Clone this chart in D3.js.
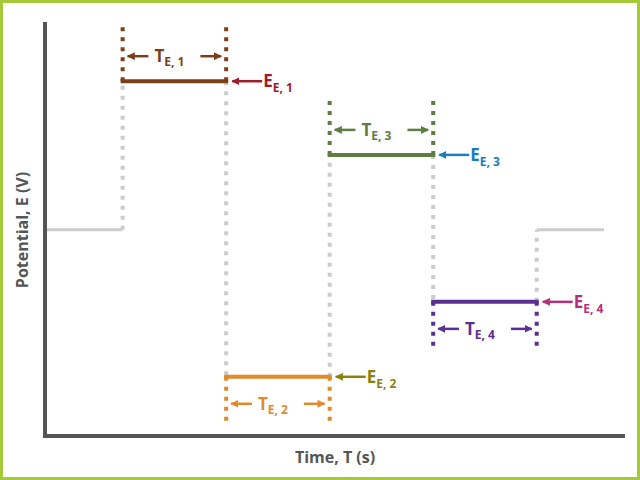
<!DOCTYPE html>
<html><head><meta charset="utf-8">
<script src="https://cdn.jsdelivr.net/npm/d3@7"></script>
<style>body{margin:0}svg{display:block;font-family:"Open Sans",sans-serif}</style>
</head><body><svg width="640" height="480"></svg>
<script>
// step boundaries (time) and potentials
const stepTimes = [0.75, 1.75, 2.75, 3.75, 4.75];
const tStart = 0, tEnd = 5.4;
const restLevel = 0.498;
const stepLevels = [0.857, 0.143, 0.679, 0.324];
const stepNames = ["1", "2", "3", "4"];
const lineColors = ["#7b3f1a", "#e08a2a", "#5e7d45", "#5b2e91"];
const labelColors = ["#a01c2c", "#8a8010", "#1a7cc1", "#b5307a"];

const svg = d3.select("svg");
svg.append("rect").attr("x", 1.5).attr("y", 1.5).attr("width", 637).attr("height", 477)
  .attr("fill", "#fff").attr("stroke", "#a6c93a").attr("stroke-width", 3);

const x = d3.scaleLinear().domain([0, 5.4]).range([45, 604]);
const y = d3.scaleLinear().domain([0, 1]).range([436, 22]);

const defs = svg.append("defs");
lineColors.concat(labelColors).forEach((c, i) => {
  defs.append("marker").attr("id", "m" + i).attr("viewBox", "0 0 10 10")
    .attr("refX", 9).attr("refY", 5).attr("markerWidth", 3.2).attr("markerHeight", 3.2)
    .attr("markerUnits", "strokeWidth").attr("orient", "auto")
    .append("path").attr("d", "M0,0L10,5L0,10Z").attr("fill", c);
});

// rest level
svg.append("line").attr("x1", x(tStart)).attr("x2", x(stepTimes[0]))
  .attr("y1", y(restLevel)).attr("y2", y(restLevel)).attr("stroke", "#ccc").attr("stroke-width", 3);
svg.append("line").attr("x1", x(stepTimes[4])).attr("x2", x(tEnd))
  .attr("y1", y(restLevel)).attr("y2", y(restLevel)).attr("stroke", "#ccc").attr("stroke-width", 3);

// gray dotted transitions
const levelsAll = [restLevel, ...stepLevels, restLevel];
stepTimes.forEach((t, i) => {
  svg.append("line").attr("x1", x(t)).attr("x2", x(t))
    .attr("y1", y(levelsAll[i])).attr("y2", y(levelsAll[i + 1]))
    .attr("stroke", "#ccc").attr("stroke-width", 4).attr("stroke-dasharray", "4,6");
});

stepLevels.forEach((v, i) => {
  const x0 = x(stepTimes[i]), x1 = x(stepTimes[i + 1]);
  const up = v > restLevel;
  const yl = y(v);
  const yFar = up ? yl - 58 : yl + 50;
  const yArr = up ? yl - 25 : yl + 27;
  const c = lineColors[i];
  [x0, x1].forEach(xx => svg.append("line").attr("x1", xx).attr("x2", xx)
    .attr("y1", yl).attr("y2", yFar).attr("stroke", c).attr("stroke-width", 4)
    .attr("stroke-dasharray", "4,6"));
  svg.append("line").attr("x1", x0 - 2).attr("x2", x1 + 2).attr("y1", yl).attr("y2", yl)
    .attr("stroke", c).attr("stroke-width", 4);
  const mid = (x0 + x1) / 2;
  svg.append("line").attr("x1", mid - 26).attr("x2", x0 + 5).attr("y1", yArr).attr("y2", yArr)
    .attr("stroke", c).attr("stroke-width", 2.5).attr("marker-end", `url(#m${i})`);
  svg.append("line").attr("x1", mid + 26).attr("x2", x1 - 5).attr("y1", yArr).attr("y2", yArr)
    .attr("stroke", c).attr("stroke-width", 2.5).attr("marker-end", `url(#m${i})`);
  const tt = svg.append("text").attr("x", mid - 20).attr("y", yArr + 6).attr("fill", c)
    .attr("font-weight", "bold").attr("font-size", 17);
  tt.append("tspan").text("T");
  tt.append("tspan").attr("font-size", 12).attr("dy", 4).text("E, " + stepNames[i]);
  const lc = labelColors[i];
  svg.append("line").attr("x1", x1 + 36).attr("x2", x1 + 6).attr("y1", yl).attr("y2", yl)
    .attr("stroke", lc).attr("stroke-width", 2.5).attr("marker-end", `url(#m${i + 4})`);
  const et = svg.append("text").attr("x", x1 + 37).attr("y", yl + 6).attr("fill", lc)
    .attr("font-weight", "bold").attr("font-size", 17);
  et.append("tspan").text("E");
  et.append("tspan").attr("font-size", 12).attr("dy", 5).text("E, " + stepNames[i]);
});

// axes
svg.append("path").attr("d", `M${x(0)},${y(1)}V${y(0)}H625`).attr("fill", "none")
  .attr("stroke", "#555").attr("stroke-width", 4);
svg.append("text").attr("x", 335).attr("y", 463).attr("text-anchor", "middle")
  .attr("fill", "#555").attr("font-weight", "bold").attr("font-size", 16).text("Time, T (s)");
svg.append("text").attr("transform", "translate(28,230) rotate(-90)").attr("text-anchor", "middle")
  .attr("fill", "#555").attr("font-weight", "bold").attr("font-size", 16).text("Potential, E (V)");
</script></body></html>
